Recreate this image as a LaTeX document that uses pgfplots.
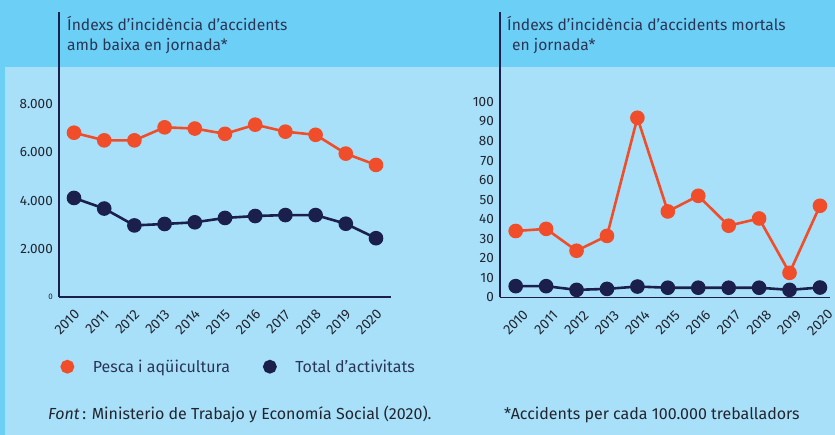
\documentclass[border=0pt]{standalone}
\usepackage{fontspec}
\setmainfont{Fira Sans}
\usepackage{pgfplots}
\pgfplotsset{compat=1.18}
\definecolor{bgtop}{HTML}{6CCFF6}
\definecolor{bglight}{HTML}{A8E0FA}
\definecolor{orng}{HTML}{F04E2A}
\definecolor{navy}{HTML}{1B1F4B}
\definecolor{txt}{HTML}{2A3556}
\definecolor{tick}{HTML}{22252F}
\pgfplotsset{
  common/.style={
    scale only axis, clip=false,
    axis lines=left,
    axis line style={navy, line width=1.4pt, -},
    major tick length=0pt,
    scaled y ticks=false,
    xtick={2010,...,2020},
    xticklabels={2010,2011,2012,2013,2014,2015,2016,2017,2018,2019,2020},
    yticklabel style={anchor=east, inner sep=0pt, xshift=-6pt, font=\fontsize{13.5}{13.5}\selectfont, text=tick},
    /pgf/number format/assume math mode=true,
  },
  orngline/.style={orng, line width=2.6pt, mark=*, mark size=6pt, mark options={fill=orng, draw=none}},
  navyline/.style={navy, line width=2.6pt, mark=*, mark size=6pt, mark options={fill=navy, draw=none}},
}
\begin{document}
\begin{tikzpicture}[x=1pt,y=1pt]
\fill[bglight] (0,0) rectangle (835,435);
\fill[bgtop] (0,368) rectangle (835,435);
\fill[bgtop] (0,0) rectangle (5,368);
\path[use as bounding box] (0,0) rectangle (835,435);

\begin{axis}[common,
  at={(59pt,138pt)}, anchor=south west,
  width=332pt, height=285pt,
  xmin=2009.503, xmax=2020.497, ymin=0, ymax=11826,
  ytick={0,2000,4000,6000,8000},
  yticklabels={{\fontsize{8}{8}\selectfont 0},2.000,4.000,6.000,8.000},
  xticklabel style={xshift=-7pt, yshift=-25pt, rotate=45, anchor=center, inner sep=0pt, font=\fontsize{14}{14}\selectfont, text=tick},
  legend columns=2,
  legend style={at={(0.0045,-0.2446)}, anchor=west, draw=none, fill=none,
    inner sep=0pt, outer sep=0pt,
    font=\fontsize{16}{16}\selectfont, text=txt,
    nodes={inner sep=0pt},
    /tikz/every odd column/.append style={column sep=18.5pt},
    /tikz/every even column/.append style={column sep=33pt}},
  legend image code/.code={\fill[#1] (0pt,0pt) circle (5.6pt);},
]
\addplot[orngline] coordinates {(2010,6817)(2011,6500)(2012,6500)(2013,7040)(2014,6990)(2015,6770)(2016,7150)(2017,6860)(2018,6730)(2019,5950)(2020,5480)};
\addplot[navyline] coordinates {(2010,4110)(2011,3670)(2012,2970)(2013,3030)(2014,3100)(2015,3280)(2016,3360)(2017,3400)(2018,3400)(2019,3040)(2020,2440)};
\legend{Pesca i aqüicultura, Total d’activitats}
\end{axis}

\begin{axis}[common,
  at={(500pt,137.5pt)}, anchor=south west,
  width=330pt, height=285.5pt,
  xmin=2009.484, xmax=2020.33, ymin=0, ymax=146,
  ytick={0,10,...,100},
  xticklabel style={yshift=-25pt, rotate=45, anchor=center, inner sep=0pt, font=\fontsize{14}{14}\selectfont, text=tick},
]
\addplot[orngline] coordinates {(2010,34.0)(2011,35.1)(2012,23.9)(2013,31.5)(2014,91.9)(2015,44.0)(2016,52.0)(2017,36.7)(2018,40.4)(2019,12.6)(2020,46.9)};
\addplot[navyline] coordinates {(2010,5.8)(2011,5.8)(2012,3.9)(2013,4.4)(2014,5.6)(2015,5.0)(2016,5.0)(2017,5.0)(2018,5.0)(2019,3.9)(2020,5.1)};
\end{axis}

\begin{scope}[every node/.style={inner sep=0pt, text=txt, font=\fontsize{15.6}{15.6}\selectfont}]
\node[anchor=base west] at (67,404) {Índexs d’incidència d’accidents};
\node[anchor=base west] at (67,384) {amb baixa en jornada*};
\node[anchor=base west] at (507,404) {Índexs d’incidència d’accidents mortals};
\node[anchor=base west] at (512,384) {en jornada*};
\end{scope}
\begin{scope}[every node/.style={inner sep=0pt, text=tick, font=\fontsize{16}{16}\selectfont}]
\node[anchor=base west] at (48,15) {\textit{Font}\,: Ministerio de Trabajo y Economía Social (2020).};
\node[anchor=base west] at (504,15) {*Accidents per cada 100.000 treballadors};
\end{scope}
\end{tikzpicture}
\end{document}
